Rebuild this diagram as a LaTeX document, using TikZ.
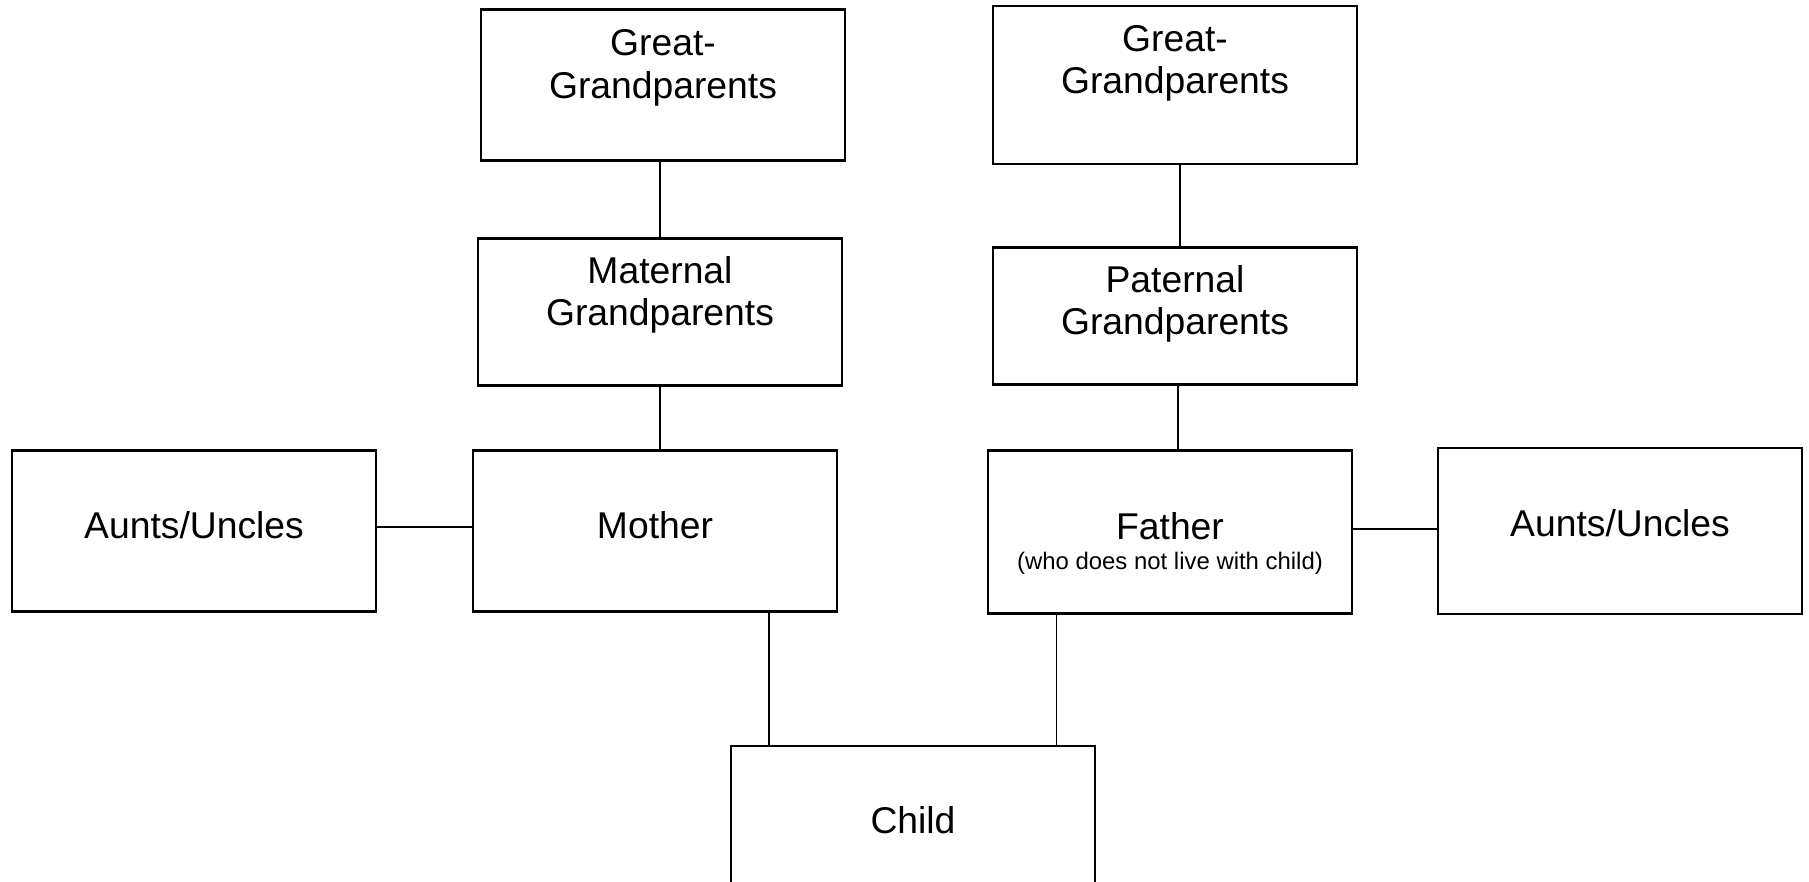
\documentclass[tikz,border=0pt]{standalone}
\usepackage{fontspec}
\setmainfont{Liberation Sans}
\usetikzlibrary{calc}

\begin{document}
\begin{tikzpicture}[x=0.01cm, y=-0.01cm,
    box/.style={draw, line width=0.6pt, minimum width=3.63cm, inner sep=0pt},
    lbl/.style={anchor=base, inner sep=0pt, font=\fontsize{10.6}{12}\selectfont},
    note/.style={anchor=base, inner sep=0pt, font=\fontsize{6.8}{8}\selectfont},
    link/.style={line width=0.5pt}]
    \useasboundingbox (0,0) rectangle (1809,882);
    % Boxes
    \foreach \name/\cx/\cy/\h in {GGm/663/85/151, GGp/1175/85/158, MGP/660/312/147, PGP/1175/316/137,
        AUm/194/531/161, Mother/655/531/161, Father/1170/532/163, AUp/1620/531/166, Child/913/826/160} {
        \node[box, minimum height=0.01cm*\h] (\name) at (\cx,\cy) {};
    }
    % Labels
    \foreach \name/\txt/\y [count=\i] in {GGm/Great-/56, GGm/Grandparents/99, GGp/Great-/52, GGp/Grandparents/94,
        MGP/Maternal/284, MGP/Grandparents/325, PGP/Paternal/292, PGP/Grandparents/334,
        AUm/{Aunts/Uncles}/538, Mother/Mother/538, Father/Father/539, AUp/{Aunts/Uncles}/536, Child/Child/833} {
        \node[lbl] (Label-\i) at (\name.center |- 0,\y) {\txt};
    }
    \node[note] (Father-note) at (Father.center |- 0,569) {(who does not live with child)};
    % Lines
    \draw[link] (MGP.north |- GGm.south) -- (MGP.north);
    \draw[link] (MGP.south) -- (MGP.south |- Mother.north);
    \draw[link] ([xshift=0.05cm]GGp.south) -- ([xshift=0.05cm]GGp.south |- PGP.north);
    \draw[link] ([xshift=0.03cm]PGP.south) -- ([xshift=0.03cm]PGP.south |- Father.north);
    \draw[link] ([yshift=0.04cm]AUm.east) -- ([yshift=0.04cm]Mother.west);
    \draw[link] ([yshift=0.03cm]Father.east) -- ([yshift=0.03cm]Father.east -| AUp.west);
    \draw[link] ([xshift=0.39cm]Child.north west |- Mother.south) -- ([xshift=0.39cm]Child.north west);
    \draw[link] ([xshift=0.69cm]Father.south west) -- ([xshift=0.69cm]Father.south west |- Child.north);
\end{tikzpicture}
\end{document}
